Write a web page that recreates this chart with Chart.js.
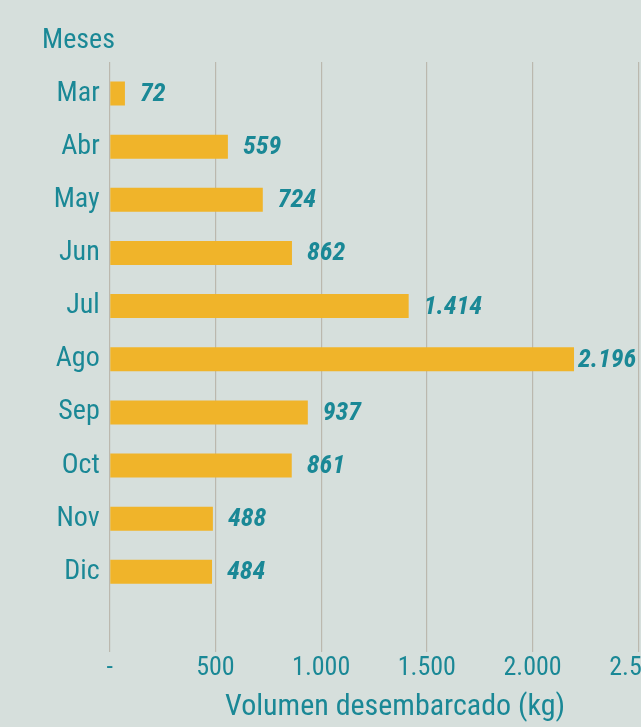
<!DOCTYPE html>
<html lang="es">
<head>
    <meta charset="UTF-8">
    <title>Volumen desembarcado por mes</title>
    <script src="https://cdn.jsdelivr.net/npm/chart.js@4.4.3/dist/chart.umd.min.js"></script>
    <style>
        html, body { margin: 0; padding: 0; background: #d6dfdc; }
        canvas { display: block; }
    </style>
</head>
<body>
    <canvas id="chart" width="641" height="727"></canvas>
    <script>
        // datos
        const meses = ['Mar', 'Abr', 'May', 'Jun', 'Jul', 'Ago', 'Sep', 'Oct', 'Nov', 'Dic'];
        const volumen = [72, 559, 724, 862, 1414, 2196, 937, 861, 488, 484];
        const ticksX = [0, 500, 1000, 1500, 2000, 2500];
        const etiquetasX = ['-', '500', '1.000', '1.500', '2.000', '2.500'];

        const TEAL = '#1a8896';
        const AMARILLO = '#f0b42a';
        const GRID = '#bbb8ae';
        const FONT = '"Roboto Condensed", "Liberation Sans Narrow", sans-serif';

        // 1414 -> 1.414
        function miles(v) {
            return String(v).replace(/\B(?=(\d{3})+(?!\d))/g, '.');
        }

        // que la etiqueta "2.500" no encoja el area del grafico (en el original queda cortada)
        function sinPadding(scale) {
            scale.paddingLeft = 0;
            scale.paddingRight = 0;
        }

        // etiquetas de valor y titulos
        const textos = {
            id: 'textos',
            afterDatasetsDraw(chart) {
                const ctx = chart.ctx;
                const meta = chart.getDatasetMeta(0);
                ctx.save();
                ctx.fillStyle = TEAL;
                ctx.font = `italic bold 26px ${FONT}`;
                ctx.textAlign = 'left';
                ctx.textBaseline = 'middle';
                meta.data.forEach((bar, i) => {
                    const txt = miles(volumen[i]);
                    const w = ctx.measureText(txt).width;
                    // dentro del area si no cabe
                    const x = Math.min(bar.x + 15, chart.chartArea.right - w - 2);
                    ctx.fillText(txt, x, bar.y + 1);
                });
                ctx.restore();
            },
            afterDraw(chart) {
                const ctx = chart.ctx;
                ctx.save();
                ctx.fillStyle = TEAL;
                ctx.textBaseline = 'alphabetic';
                ctx.textAlign = 'left';
                ctx.font = `28px ${FONT}`;
                ctx.fillText('Meses', 42, 48);
                ctx.textAlign = 'center';
                ctx.font = `30px ${FONT}`;
                ctx.fillText('Volumen desembarcado (kg)', 395, 715);
                ctx.restore();
            }
        };

        function dibujar() {
            const ctx = document.getElementById('chart').getContext('2d');
            new Chart(ctx, {
                type: 'bar',
                data: {
                    labels: [...meses, ''],
                    datasets: [{
                        label: 'Volumen desembarcado (kg)',
                        data: volumen,
                        backgroundColor: AMARILLO,
                        categoryPercentage: 1,
                        barPercentage: 0.452,
                    }]
                },
                plugins: [textos],
                options: {
                    animation: false,
                    responsive: false,
                    indexAxis: 'y',
                    layout: {
                        autoPadding: false,
                        padding: { top: 62, right: 2.7, bottom: 0, left: 0 }
                    },
                    plugins: {
                        legend: { display: false },
                        tooltip: { enabled: false },
                    },
                    scales: {
                        x: {
                            type: 'linear',
                            position: 'bottom',
                            min: 0,
                            max: 2500,
                            afterBuildTicks(scale) {
                                scale.ticks = ticksX.map(v => ({ value: v }));
                            },
                            ticks: {
                                color: TEAL,
                                font: { family: FONT, size: 26 },
                                padding: 1,
                                maxRotation: 0,
                                autoSkip: false,
                                callback: (v) => etiquetasX[ticksX.indexOf(v)],
                            },
                            grid: { color: GRID, lineWidth: 1.2, drawTicks: false },
                            border: { display: false },
                            afterFit(scale) {
                                scale.height = 75.5;
                                sinPadding(scale);
                            }
                        },
                        // solo para que las lineas de la cuadricula sobresalgan un poco arriba
                        x2: {
                            type: 'linear',
                            position: 'top',
                            min: 0,
                            max: 2500,
                            afterBuildTicks(scale) {
                                scale.ticks = ticksX.map(v => ({ value: v }));
                            },
                            ticks: { display: false },
                            grid: { color: GRID, lineWidth: 1.2, drawOnChartArea: false, drawTicks: true, tickLength: 5 },
                            border: { display: false },
                            afterFit(scale) {
                                scale.height = 5;
                                sinPadding(scale);
                            }
                        },
                        y: {
                            ticks: {
                                color: TEAL,
                                font: { family: FONT, size: 28 },
                                padding: 10,
                                autoSkip: false,
                            },
                            grid: { display: false, drawTicks: false },
                            border: { display: false },
                            afterFit(scale) { scale.width = 109.7; }
                        }
                    }
                }
            });
        }

        document.fonts.load(`28px "Roboto Condensed"`).then(dibujar, dibujar);
    </script>
</body>
</html>
